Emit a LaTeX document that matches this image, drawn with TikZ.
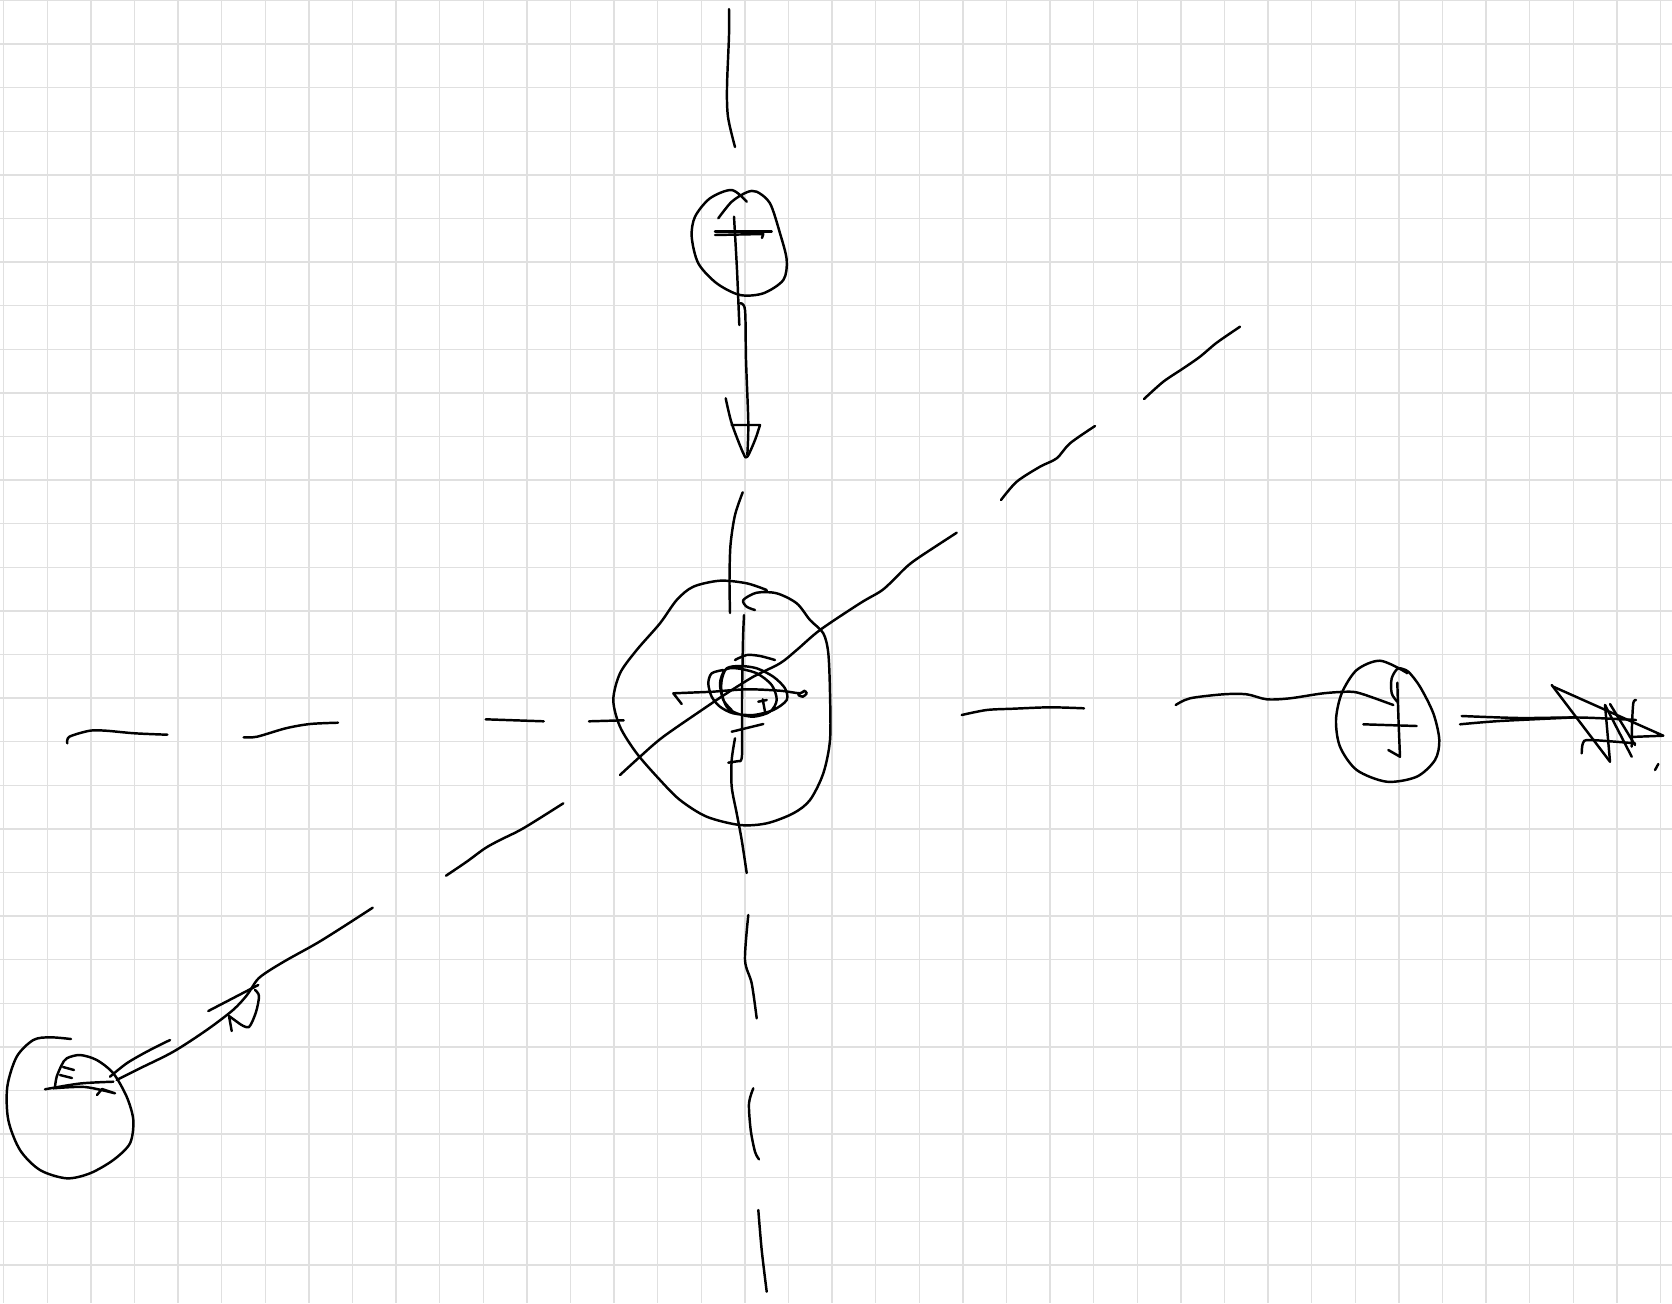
\documentclass[tikz,border=0pt]{standalone}
\begin{document}
\begin{tikzpicture}[x=0.2mm, y=-0.2mm,
  gridline/.style={black!12, line width=0.8pt},
  pen/.style={line width=1.4pt, line cap=round, line join=round}]
\useasboundingbox (0,0) rectangle (1672,1303);
\fill[white] (0,0) rectangle (1672,1303);
\foreach \gx in {0,...,38} \draw[gridline] ({3.7+43.6*\gx},0) -- ({3.7+43.6*\gx},1303);
\foreach \gy in {0,...,29} \draw[gridline] (0,{0.5+43.6*\gy}) -- (1672,{0.5+43.6*\gy});

% vertical axis
\draw[pen] plot[smooth] coordinates {(729,9) (729,35) (727,87) (728,117) (735,147)};
\draw[pen] plot[smooth] coordinates {(742.7,492.3) (735,515) (730.5,545) (729.5,580) (730,613)};
\draw[pen] plot[smooth] coordinates {(744,615) (743,640) (742,700) (742,755) (739,761)} -- (728.3,762.7);
\draw[pen] plot[smooth] coordinates {(735,738.3) (731.7,760) (731.7,786.7) (736.7,813.3) (741.7,840) (746.7,873)};
\draw[pen] plot[smooth] coordinates {(748.3,915) (745,960) (751.7,983.3) (756.7,1018.3)};
\draw[pen] plot[smooth] coordinates {(753.3,1088.3) (749,1103.3) (750.7,1130) (755,1151.7) (759,1159.3)};
\draw[pen] plot[smooth] coordinates {(758.3,1210) (761.7,1250) (766.7,1291.7)};

% horizontal axis
\draw[pen] plot[smooth] coordinates {(67.3,743.3) (69.4,736.7) (89.8,730.7) (106,730.7) (134.7,733.3) (167.3,734.7)};
\draw[pen] plot[smooth] coordinates {(243.7,737.3) (257,736.7) (285.7,728.3) (310,724) (338,722.7)};
\draw[pen] (485.7,719.3) -- (543.7,721.3);
\draw[pen] (589,721.3) -- (623.7,720.3);
\draw[pen] plot[smooth] coordinates {(961.7,715) (986.7,710) (1013.3,708.7) (1050,707.3) (1084,708.3)};
\draw[pen] plot[smooth] coordinates {(1175.7,705) (1190,698.3) (1223.3,694.3) (1246.7,694.3) (1266.7,699.3) (1290,698.3) (1323.3,693.3) (1350,691.7) (1363.3,694.3) (1393.3,705)};

% diagonal axis
\draw[pen] plot[smooth] coordinates {(446,875.7) (466.7,861.7) (485,848.3) (500,840) (523.3,828.3) (563.3,803.3)};
\draw[pen] plot[smooth] coordinates {(620,775) (640,756.7) (663.3,736.7) (706.7,706.7) (726.7,693.3) (753.3,676.7) (780,663.3) (796.7,650) (820,630) (860,603.3) (880,591.7) (890,583.3) (906.7,566.7) (920,556.7) (956.7,532.7)};
\draw[pen] plot[smooth] coordinates {(1001,500) (1016.7,481.7) (1040,466.7) (1056.7,458.3) (1070,443.3) (1095,426)};
\draw[pen] plot[smooth] coordinates {(1144,399) (1163.3,381.7) (1183.3,368.3) (1200,356.7) (1216.7,342.7) (1240,326.7)};

% top charge
\draw[pen] plot[smooth] coordinates {(746.7,201.7) (731.7,190) (710,198.3) (695,216.7) (691.7,236.7) (698.3,263.3) (716.7,283.3) (740,295) (763.3,293.3) (783.3,280) (786.7,260) (780,233.3) (770,203.3) (756.7,191.7) (746.7,192.3) (731.7,201.7) (718.3,218.3)};
\draw[pen] (715,231.7) -- (771.7,231.7);
\draw[pen] (715,235) -- (763.3,234) -- (762,238);
\draw[pen] plot[smooth] coordinates {(734,216.7) (737,270) (739.3,325)};
\draw[pen] plot[smooth] coordinates {(740,303.3) (745,310) (746,360) (748.3,423.3) (747.3,455)};
\draw[pen] plot[smooth] coordinates {(725.7,398.3) (731.7,423.3) (743.3,453.3) (747.3,456.7) (755,440) (760,425)} -- (731.7,425);

% central charge
\draw[pen] plot[smooth] coordinates {(766.7,590) (746.7,583.3) (720,580.7) (693.3,586.7) (676.7,600) (660,623.3) (636.7,650) (620,673.3) (613.3,700) (620,726.7) (636.7,753.3) (660,780) (680,800) (706.7,816.7) (740,825) (766.7,823.3) (793.3,813.3) (810,800) (823.3,773.3) (830,740) (830,693.3) (828.3,653.3) (823.3,633.3) (810,620) (796.7,603.3) (776.7,593.3) (756.7,592.7) (743.3,600) (746.7,606.7) (755,610)};
\draw[pen] plot[smooth] coordinates {(723.3,670) (711.7,673.3) (708.3,683.3) (711.7,696.7) (720,706.7) (733.3,713.3) (753.3,715) (773.3,710) (786.7,700) (785,688.3) (773.3,676.7) (756.7,668.3) (740,666) (726.7,668.3) (721.7,680) (721.7,693.3) (726.7,706.7) (736.7,713.3) (753.3,716.7) (770,711.7) (776.7,700) (771.7,685) (756.7,673.3) (736.7,668.3) (725,670) (720,683.3) (723.3,700) (731.7,710)};
\draw[pen] plot[smooth] coordinates {(735,660) (746.7,655) (760,656) (775,660)};
\draw[pen] (681.7,704) -- (673.3,693.3) -- plot[smooth] coordinates {(713.3,691.7) (746.7,689.3) (780,690.7) (800,693.3) (804,690.7) (806.7,693.3) (802.7,696.7) (798.3,695)};
\draw[pen] (731.7,731.7) -- (763.3,724);
\draw[pen] (758.3,701.7) -- (766.7,700);
\draw[pen] (762.7,699.3) -- (765,711.7);

% right charge
\draw[pen] plot[smooth] coordinates {(1405,671.7) (1380,660.7) (1356.7,670) (1341.7,693.3) (1336,720) (1340,746.7) (1356.7,770) (1386.7,781.7) (1416.7,776.7) (1435,760) (1439.3,740) (1433.3,713.3) (1420,686.7) (1408.3,671.7) (1400,668.3)};
\draw[pen] plot[smooth] coordinates {(1407.3,673.3) (1398.3,668.3) (1391.7,678.3) (1391.7,693.3) (1397.3,701.7)};
\draw[pen] plot[smooth] coordinates {(1397.3,682.7) (1398.5,720) (1400,756.7)} -- (1388.3,750);
\draw[pen] (1363.3,724.3) -- (1416.7,726);
\draw[pen] plot[smooth] coordinates {(1461.7,716) (1520,718) (1580,717.5) (1636,720)};
\draw[pen] plot[smooth] coordinates {(1460,724.3) (1500,721) (1576.7,717.3)};
\draw[pen] (1551.7,685) -- (1610,761.7);
\draw[pen] (1553.3,686.7) -- (1663.3,735.7) -- (1630,737);
\draw[pen] (1605,705) -- (1610,761.7);
\draw[pen] (1605,705) -- (1631.7,756.7);
\draw[pen] (1610,704) -- (1635,745);
\draw[pen] plot[smooth] coordinates {(1636,700) (1633.3,703) (1632,725) (1631.7,746.7)};
\draw[pen] plot[smooth] coordinates {(1581.7,753.3) (1583,743) (1590,740) (1635,743.3)};
\draw[pen] (1658.3,764) -- (1655,770);

% lower left charge
\draw[pen] plot[smooth] coordinates {(71,1039) (50,1037.3) (33.3,1040) (16.7,1056.7) (7.3,1086.7) (8.3,1120) (20,1150) (40,1170) (66.7,1178.3) (90,1173.3) (113.3,1160) (130,1143.3) (133.3,1120) (126.7,1096.7) (113.3,1073.3) (96.7,1060) (80,1055) (66.7,1058.3) (61.7,1065) (56.7,1076.7) (55,1086.7)};
\draw[pen] plot[smooth] coordinates {(45,1089.3) (80,1083.5) (113.3,1081.7)};
\draw[pen] plot[smooth] coordinates {(53.3,1088.3) (85,1087) (115,1093.3)} -- (102,1089) -- (97,1095);
\draw[pen] (63,1067) -- (74,1070);
\draw[pen] (60,1075) -- (72,1078);
\draw[pen] plot[smooth] coordinates {(110,1076.7) (126.7,1063.3) (146.7,1051.7) (170,1040)};
\draw[pen] plot[smooth] coordinates {(116.7,1080) (140,1068.3) (173.3,1051.7) (206.7,1030) (233,1010) (247,995) (257,980) (267,972) (286.7,960) (316.7,943.3) (343.3,926.7) (372.7,907.7)};
\draw[pen] (208.3,1011) -- (258.3,985);
\draw[pen] (231.7,1031) -- (229,1016) -- plot[smooth] coordinates {(240,1024) (249,1027) (256,1012) (259,996) (255,990)};
\end{tikzpicture}
\end{document}
